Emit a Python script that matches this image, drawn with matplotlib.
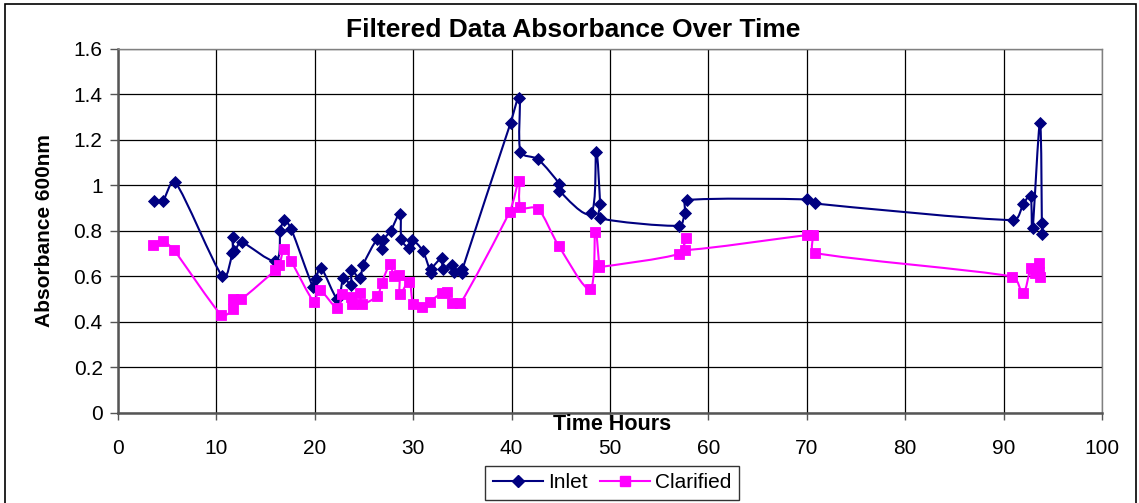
import numpy as np
import matplotlib
matplotlib.use("Agg")
import matplotlib.pyplot as plt
from matplotlib.path import Path
from matplotlib.patches import PathPatch, Rectangle
from matplotlib.lines import Line2D
from matplotlib.transforms import IdentityTransform

plt.rcParams['font.family'] = ['Liberation Sans', 'DejaVu Sans']

# ---------------- data ----------------
inlet_t = [3.66, 4.54, 5.83, 10.6, 11.6, 11.65, 11.8, 12.57, 16.0, 16.5, 16.9, 17.6,
           19.8, 20.1, 20.66, 22.3, 22.9, 23.7, 23.7, 24.6, 24.9, 26.35, 26.8, 26.95,
           27.7, 28.66, 28.8, 29.6, 29.9, 30.96, 31.8, 31.8, 32.9, 33.0, 33.9, 34.1,
           35.0, 35.0, 39.9, 40.8, 40.9, 42.7, 44.85, 44.85, 48.07, 48.6, 49.0, 49.0,
           57.0, 57.6, 57.8, 70.0, 70.8, 91.0, 92.0, 92.75, 92.95, 93.7, 93.9, 93.9]
inlet_v = [0.93, 0.93, 1.013, 0.60, 0.70, 0.772, 0.71, 0.749, 0.667, 0.80, 0.847, 0.808,
           0.554, 0.586, 0.635, 0.50, 0.59, 0.56, 0.627, 0.59, 0.649, 0.762, 0.718, 0.759,
           0.799, 0.874, 0.762, 0.723, 0.759, 0.712, 0.613, 0.63, 0.679, 0.63, 0.649, 0.62,
           0.613, 0.63, 1.275, 1.383, 1.148, 1.114, 1.006, 0.976, 0.877, 1.148, 0.916, 0.855,
           0.822, 0.877, 0.935, 0.938, 0.92, 0.847, 0.916, 0.954, 0.81, 1.275, 0.784, 0.833]

clar_t = [3.6, 4.54, 5.7, 10.5, 11.65, 11.65, 12.5, 16.0, 16.4, 16.9, 17.6, 19.9,
          20.5, 22.3, 22.8, 23.7, 23.8, 24.6, 24.8, 26.35, 26.8, 27.65, 28.0, 28.6,
          28.66, 29.6, 30.0, 30.9, 31.7, 32.9, 33.4, 33.9, 34.8, 39.8, 40.75, 40.9,
          42.7, 44.8, 47.97, 48.5, 48.9, 48.9, 57.0, 57.7, 57.6, 70.0, 70.6, 70.8,
          90.9, 92.0, 92.75, 93.2, 93.6, 93.7, 93.6]
clar_v = [0.736, 0.753, 0.714, 0.429, 0.454, 0.498, 0.498, 0.627, 0.649, 0.721, 0.667, 0.488,
          0.539, 0.458, 0.52, 0.51, 0.478, 0.525, 0.478, 0.514, 0.571, 0.652, 0.601, 0.605,
          0.522, 0.576, 0.478, 0.466, 0.488, 0.527, 0.532, 0.48, 0.48, 0.884, 1.02, 0.906,
          0.897, 0.733, 0.544, 0.796, 0.649, 0.64, 0.698, 0.766, 0.715, 0.781, 0.781, 0.703,
          0.598, 0.524, 0.635, 0.613, 0.657, 0.598, 0.62]

x_ticks = [0, 10, 20, 30, 40, 50, 60, 70, 80, 90, 100]
y_ticks = [0, 0.2, 0.4, 0.6, 0.8, 1.0, 1.2, 1.4, 1.6]
y_tick_labels = ["0", "0.2", "0.4", "0.6", "0.8", "1", "1.2", "1.4", "1.6"]

title = "Filtered Data Absorbance Over Time"
x_label = "Time Hours"
y_label = "Absorbance 600nm"
series_names = ["Inlet", "Clarified"]

NAVY = "#000080"
MAGENTA = "#FF00FF"

# ---------------- figure ----------------
W, H = 1139, 503
fig = plt.figure(figsize=(W / 100, H / 100), dpi=100)
fig.patch.set_facecolor("white")

L, R, T, B = 118, 1102, 49, 412.5
ax = fig.add_axes([L / W, 1 - B / H, (R - L) / W, (B - T) / H])
ax.set_xlim(0, 100)
ax.set_ylim(0, 1.6)


def smooth_path(x, y):
    """Excel-like smoothed line (cubic Bezier), computed in display space
    with tangent lengths limited to avoid loops."""
    P = ax.transData.transform(np.column_stack([x, y]).astype(float))
    n = len(P)
    verts = [P[0]]
    codes = [Path.MOVETO]
    for i in range(n - 1):
        p0 = P[i - 1] if i > 0 else P[i]
        p1 = P[i]
        p2 = P[i + 1]
        p3 = P[i + 2] if i + 2 < n else P[i + 1]
        seg = np.hypot(*(p2 - p1))
        d1 = (p2 - p0) / 6.0
        d2 = (p3 - p1) / 6.0
        lim = seg / 3.0
        n1 = np.hypot(*d1)
        n2 = np.hypot(*d2)
        if n1 > lim and n1 > 0:
            d1 = d1 * lim / n1
        if n2 > lim and n2 > 0:
            d2 = d2 * lim / n2
        verts += [p1 + d1, p2 - d2, p2]
        codes += [Path.CURVE4] * 3
    return Path(verts, codes)


for tt, vv, col, z in ((inlet_t, inlet_v, NAVY, 3), (clar_t, clar_v, MAGENTA, 5)):
    patch = PathPatch(smooth_path(tt, vv), fill=False, edgecolor=col, lw=1.5,
                      zorder=z, capstyle='round', joinstyle='round',
                      transform=IdentityTransform())
    patch.set_clip_path(ax.patch)
    ax.add_artist(patch)

ax.plot(inlet_t, inlet_v, linestyle='none', marker='D', ms=6.3, color=NAVY,
        mec=NAVY, mew=0.6, zorder=4)
ax.plot(clar_t, clar_v, linestyle='none', marker='s', ms=7.3, color=MAGENTA,
        mec=MAGENTA, mew=0.6, zorder=6)

# ticks / grid
ax.set_xticks(x_ticks)
ax.set_xticklabels([str(v) for v in x_ticks])
ax.set_yticks(y_ticks)
ax.set_yticklabels(y_tick_labels)
ax.grid(True, color="black", lw=0.9, zorder=1)
ax.set_axisbelow(True)
ax.tick_params(axis='y', direction='out', length=6, width=1, color="#555555",
               pad=5, labelsize=15)
ax.tick_params(axis='x', direction='out', length=5, width=1, color="#555555",
               pad=14, labelsize=15)
for s in ("left", "bottom"):
    ax.spines[s].set_color("#555555")
    ax.spines[s].set_linewidth(1.8)
for s in ("top", "right"):
    ax.spines[s].set_color("#808080")
    ax.spines[s].set_linewidth(1.0)

# texts
fig.text(573 / W, 1 - 30 / H, title, ha='center', va='center',
         fontsize=19, fontweight='bold')
fig.text(612 / W, 1 - 424 / H, x_label, ha='center', va='center',
         fontsize=15.5, fontweight='bold')
fig.text(45 / W, 1 - 231 / H, y_label, ha='center', va='center', rotation=90,
         fontsize=15, fontweight='bold')

# legend
handles = [Line2D([], [], color=NAVY, marker='D', ms=6.3, lw=1.5),
           Line2D([], [], color=MAGENTA, marker='s', ms=7.3, lw=1.5)]
leg = fig.legend(handles, series_names, loc='upper center', ncol=2,
                 bbox_to_anchor=(612 / W, 1 - 466 / H), bbox_transform=fig.transFigure,
                 frameon=True, fancybox=False, edgecolor='black', fontsize=15,
                 handlelength=2.4, handletextpad=0.25, columnspacing=0.6,
                 borderpad=0.35, borderaxespad=0)
leg.get_frame().set_linewidth(1.0)

# outer figure border
fig.patches.append(Rectangle((5 / W, -0.02), (1136 - 5) / W, 1 - 4 / H + 0.02,
                             transform=fig.transFigure, fill=False,
                             edgecolor='black', lw=1.2, zorder=0))

fig.savefig("out.png", dpi=100)
